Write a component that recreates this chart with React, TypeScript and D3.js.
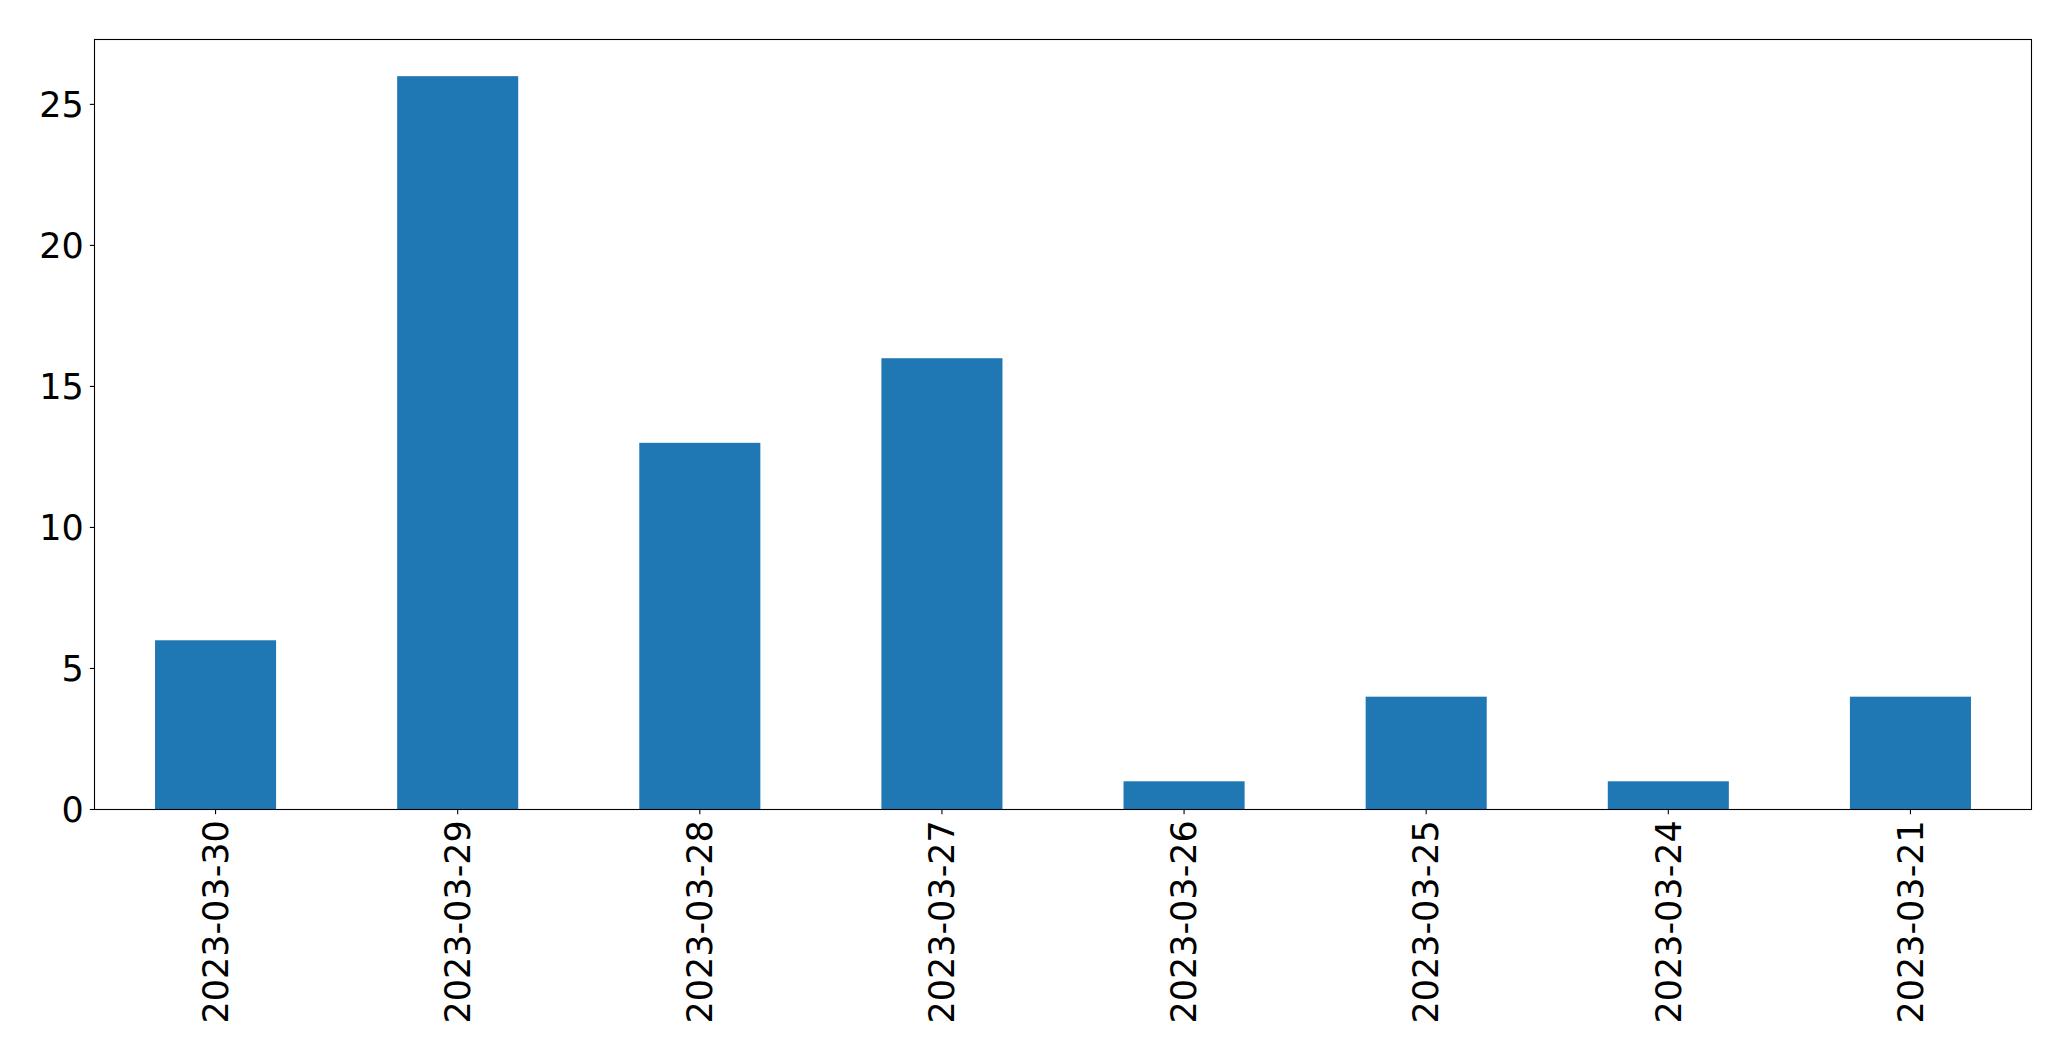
import React from "react";
import * as d3 from "d3";

const categories: string[] = [
  "2023-03-30",
  "2023-03-29",
  "2023-03-28",
  "2023-03-27",
  "2023-03-26",
  "2023-03-25",
  "2023-03-24",
  "2023-03-21",
];
const counts: number[] = [6, 26, 13, 16, 1, 4, 1, 4];
const yTicks: number[] = [0, 5, 10, 15, 20, 25];

const W = 2071;
const H = 1061;
const left = 94.5;
const right = 2031.5;
const top = 39.5;
const bottom = 809.5;
const FONT = 35;
const TICK = 4.7;

export default function App() {
  const maxV = d3.max(counts) as number;
  const x = d3
    .scaleLinear()
    .domain([-0.5, categories.length - 0.5])
    .range([left, right]);
  const y = d3
    .scaleLinear()
    .domain([0, maxV * 1.05])
    .range([bottom, top]);
  const barW = x(0.5) - x(0);

  return (
    <svg
      width={W}
      height={H}
      style={{ position: "absolute", left: 0, top: 0, background: "#fff" }}
      fontFamily="DejaVu Sans"
    >
      <rect x={0} y={0} width={W} height={H} fill="#fff" />
      {counts.map((v, i) => (
        <rect
          key={i}
          x={x(i) - barW / 2}
          y={y(v)}
          width={barW}
          height={y(0) - y(v)}
          fill="#1f77b4"
        />
      ))}
      <rect
        x={left}
        y={top}
        width={right - left}
        height={bottom - top}
        fill="none"
        stroke="#000"
        strokeWidth={1.1}
      />
      {yTicks.map((t) => (
        <g key={t}>
          <line
            x1={left - TICK}
            x2={left}
            y1={y(t)}
            y2={y(t)}
            stroke="#000"
            strokeWidth={1.1}
          />
          <text
            x={left - TICK - 6}
            y={y(t)}
            dy="0.35em"
            textAnchor="end"
            fontSize={FONT}
            fill="#000"
          >
            {t}
          </text>
        </g>
      ))}
      {categories.map((c, i) => (
        <g key={c}>
          <line
            x1={x(i)}
            x2={x(i)}
            y1={bottom}
            y2={bottom + TICK}
            stroke="#000"
            strokeWidth={1.1}
          />
          <text
            transform={`translate(${x(i)},${bottom + TICK + 6}) rotate(-90)`}
            dy="0.35em"
            textAnchor="end"
            fontSize={FONT}
            fill="#000"
          >
            {c}
          </text>
        </g>
      ))}
    </svg>
  );
}
